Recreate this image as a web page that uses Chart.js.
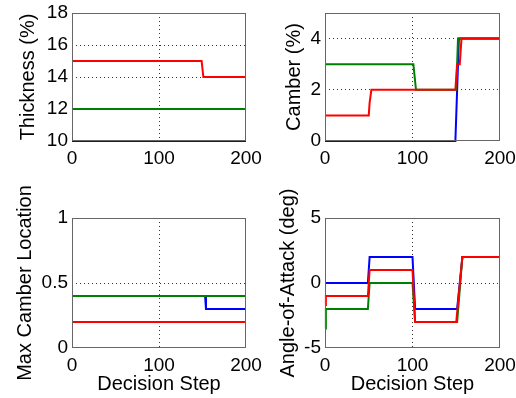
<!DOCTYPE html>
<html>
<head>
<meta charset="utf-8">
<script src="https://cdn.jsdelivr.net/npm/chart.js@4"></script>
<style>
  html, body { margin: 0; padding: 0; background: #fff; }
  #wrap { position: relative; width: 516px; height: 398px; }
  #wrap canvas { position: absolute; left: 0; top: 0; }
</style>
</head>
<body>
<div id="wrap">
  <canvas id="thickness" width="516" height="398"></canvas>
  <canvas id="camber" width="516" height="398"></canvas>
  <canvas id="camberLoc" width="516" height="398"></canvas>
  <canvas id="aoa" width="516" height="398"></canvas>
</div>
<script>
// decision step axis
const stepTicks = [0, 100, 200];

// thickness (%)
const thickTicks = [10, 12, 14, 16, 18];
const thickBlueX = [0, 200];
const thickBlueY = [10, 10];
const thickGreenX = [0, 200];
const thickGreenY = [12, 12];
const thickRedX = [0, 149, 151, 200];
const thickRedY = [15, 15, 14, 14];

// camber (%)
const camberTicks = [0, 2, 4];
const camberBlueX = [0, 149, 153, 200];
const camberBlueY = [0, 0, 4, 4];
const camberGreenX = [0, 101, 104, 150, 152, 200];
const camberGreenY = [3, 3, 2, 2, 4, 4];
const camberRedX = [0, 50, 51, 53, 149, 151, 154, 156, 200];
const camberRedY = [1, 1, 1.5, 2, 2, 3, 3, 4, 4];

// max camber location
const locTicks = [0, 0.5, 1];
const locBlueX = [0, 153, 154, 200];
const locBlueY = [0.4, 0.4, 0.3, 0.3];
const locGreenX = [0, 200];
const locGreenY = [0.4, 0.4];
const locRedX = [0, 200];
const locRedY = [0.2, 0.2];

// angle of attack (deg)
const aoaTicks = [-5, 0, 5];
const aoaBlueX = [0, 49, 51, 100, 103, 151, 157, 200];
const aoaBlueY = [0, 0, 2, 2, -2, -2, 2, 2];
const aoaGreenX = [0, 1, 49, 51, 100, 103, 151, 157, 200];
const aoaGreenY = [-3.5, -2, -2, 0, 0, -3, -3, 2, 2];
const aoaRedX = [0, 1, 49, 51, 100, 103, 150, 157, 200];
const aoaRedY = [-1.7, -1, -1, 1, 1, -3, -3, 2, 2];

Chart.defaults.font.family = '"Liberation Sans", Arial, sans-serif';
Chart.defaults.color = '#000';
Chart.defaults.animation = false;

const pts = (xs, ys) => xs.map((x, i) => ({ x, y: ys[i] }));

// box around the plot area, drawn over the lines like matlab does
const boxPlugin = {
  id: 'box',
  afterDatasetsDraw(chart) {
    const a = chart.chartArea, c = chart.ctx;
    c.save();
    c.strokeStyle = '#666';
    c.lineWidth = 1;
    c.strokeRect(a.left + 0.5, a.top + 0.5, a.right - a.left - 1, a.bottom - a.top - 1);
    c.restore();
  }
};

function gridColor(min, max) {
  return (ctx) => (ctx.tick && (ctx.tick.value === min || ctx.tick.value === max)) ? 'rgba(0,0,0,0)' : '#333';
}

// fixed axis sizes; end labels may hang past the plot edge
function fixSize(key, size) {
  return (s) => {
    s[key] = size;
    s.paddingLeft = s.paddingRight = s.paddingTop = s.paddingBottom = 0;
  };
}

function makePanel(id, p) {
  const yMin = p.yTicks[0], yMax = p.yMax;
  const series = [
    ['#ff0000', p.red],
    ['#008000', p.green],
    ['#0000ff', p.blue]
  ];
  new Chart(document.getElementById(id), {
    type: 'line',
    data: {
      datasets: series.map(([color, data]) => ({
        data, borderColor: color, borderWidth: 2, pointRadius: 0, tension: 0, fill: false, clip: 3
      }))
    },
    options: {
      responsive: false,
      events: [],
      layout: { padding: p.pad },
      plugins: { legend: { display: false }, tooltip: { enabled: false } },
      scales: {
        x: {
          type: 'linear', min: 0, max: 200,
          afterBuildTicks: (s) => { s.ticks = stepTicks.map((v) => ({ value: v })); },
          afterFit: fixSize('height', p.xH),
          ticks: { font: { size: 19 }, padding: 6, maxRotation: 0, autoSkip: false, callback: (v) => String(v) },
          grid: { drawTicks: false, color: gridColor(0, 200) },
          border: { display: false, dash: [1, 3] },
          title: p.xTitle ? { display: true, text: p.xTitle, font: { size: 20, lineHeight: 1 }, padding: { top: 0, bottom: 3.5 } } : { display: false }
        },
        y: {
          type: 'linear', min: yMin, max: yMax,
          afterBuildTicks: (s) => { s.ticks = p.yTicks.map((v) => ({ value: v })); },
          afterFit: fixSize('width', p.yW),
          ticks: { font: { size: 19 }, padding: 4, autoSkip: false, callback: (v) => String(v) },
          grid: { drawTicks: false, color: gridColor(yMin, yMax) },
          border: { display: false, dash: [1, 3] },
          title: { display: true, text: p.yTitle, font: { size: 20, lineHeight: 1 }, padding: { top: p.yTitlePad, bottom: 0 } }
        }
      }
    },
    plugins: [boxPlugin]
  });
}

makePanel('thickness', {
  yTicks: thickTicks, yMax: 18, yTitle: 'Thickness (%)', yTitlePad: 18, yW: 72, xH: 40,
  pad: { left: 0, top: 13, right: 270, bottom: 217 },
  blue: pts(thickBlueX, thickBlueY), green: pts(thickGreenX, thickGreenY), red: pts(thickRedX, thickRedY)
});

makePanel('camber', {
  yTicks: camberTicks, yMax: 5, yTitle: 'Camber (%)', yTitlePad: 26, yW: 67, xH: 40,
  pad: { left: 258, top: 13, right: 16, bottom: 217 },
  blue: pts(camberBlueX, camberBlueY), green: pts(camberGreenX, camberGreenY), red: pts(camberRedX, camberRedY)
});

makePanel('camberLoc', {
  yTicks: locTicks, yMax: 1, yTitle: 'Max Camber Location', yTitlePad: 15, yW: 72, xH: 50,
  xTitle: 'Decision Step',
  pad: { left: 0, top: 218, right: 270, bottom: 0 },
  blue: pts(locBlueX, locBlueY), green: pts(locGreenX, locGreenY), red: pts(locRedX, locRedY)
});

makePanel('aoa', {
  yTicks: aoaTicks, yMax: 5, yTitle: 'Angle-of-Attack (deg)', yTitlePad: 20, yW: 67, xH: 50,
  xTitle: 'Decision Step',
  pad: { left: 258, top: 218, right: 16, bottom: 0 },
  blue: pts(aoaBlueX, aoaBlueY), green: pts(aoaGreenX, aoaGreenY), red: pts(aoaRedX, aoaRedY)
});
</script>
</body>
</html>
